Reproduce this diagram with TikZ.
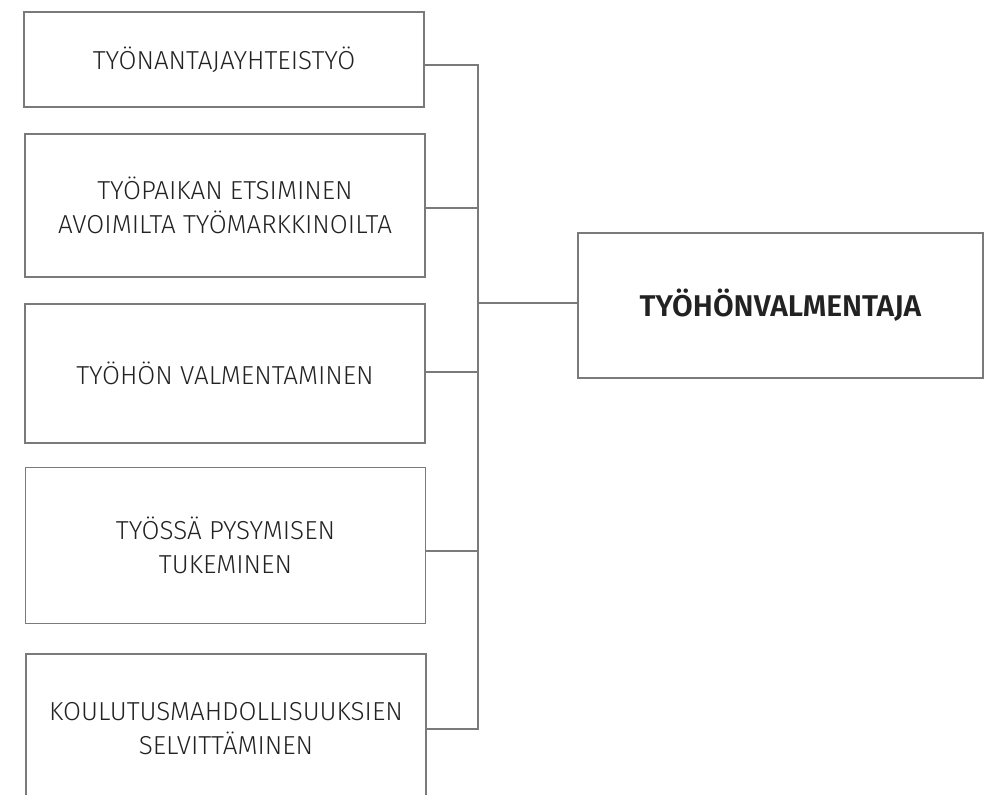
\documentclass[tikz,border=0pt]{standalone}
\usepackage{fontspec}
\newfontfamily\lightf{Fira Sans Light}
\newfontfamily\boldf{Fira Sans SemiBold}
\definecolor{linegray}{HTML}{7A7A7A}
\definecolor{textgray}{HTML}{222222}
\begin{document}
\begin{tikzpicture}[x=1pt,y=-1pt,
  box/.style={draw=linegray, line width=1.3pt, minimum width=400pt, inner sep=0pt,
    align=center, text=textgray, font=\lightf\fontsize{26}{34}\selectfont},
  mainbox/.style={draw=linegray, line width=1.3pt, minimum width=405pt, minimum height=145pt,
    inner sep=0pt, align=center, text=textgray, font=\boldf\fontsize{30}{34}\selectfont},
  conn/.style={draw=linegray, line width=1.2pt}]
\useasboundingbox (0,0) rectangle (989,795);
\clip (0,0) rectangle (989,795);
\node[box, minimum height=95pt]  (b1) at (224,59.5)  {TYÖNANTAJAYHTEISTYÖ};
\node[box, minimum height=143pt] (b2) at (225,205.5) {TYÖPAIKAN ETSIMINEN\\AVOIMILTA TYÖMARKKINOILTA};
\node[box, minimum height=139pt] (b3) at (225,373.5) {TYÖHÖN VALMENTAMINEN};
\node[box, minimum height=156pt] (b4) at (225.5,545.5) {TYÖSSÄ PYSYMISEN\\TUKEMINEN};
\node[box, minimum height=150pt] (b5) at (226,729) {KOULUTUSMAHDOLLISUUKSIEN\\SELVITTÄMINEN};
\node[mainbox] (r) at (780.5,305.5) {TYÖHÖNVALMENTAJA};
\coordinate (c1) at (478,65);
\coordinate (c2) at (478,208);
\coordinate (c3) at (478,372);
\coordinate (c4) at (478,551);
\coordinate (c5) at (478,729);
\coordinate (h) at (478,303);
\draw[conn] (b1.east |- c1) -- (c1) -- (c5) -- (b5.east |- c5);
\draw[conn] (b2.east |- c2) -- (c2);
\draw[conn] (b3.east |- c3) -- (c3);
\draw[conn] (b4.east |- c4) -- (c4);
\draw[conn] (h) -- (r.west |- h);
\end{tikzpicture}
\end{document}
